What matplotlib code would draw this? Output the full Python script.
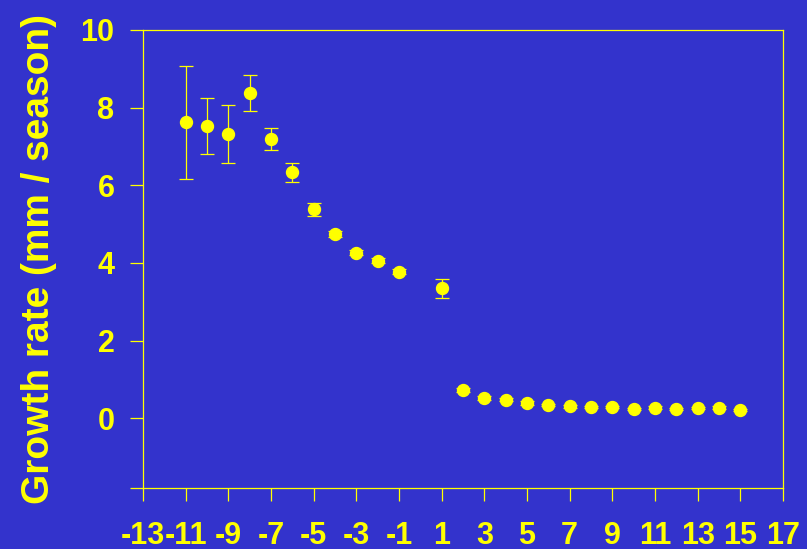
import numpy as np
import matplotlib.pyplot as plt

# growth rate per season, with standard errors
season = [-11, -10, -9, -8, -7, -6, -5, -4, -3, -2, -1, 1,
          2, 3, 4, 5, 6, 7, 8, 9, 10, 11, 12, 13, 14, 15]
growth = [7.62, 7.52, 7.32, 8.37, 7.19, 6.33, 5.38, 4.74, 4.26, 4.06, 3.77, 3.34,
          0.73, 0.52, 0.48, 0.39, 0.34, 0.30, 0.28, 0.28, 0.24, 0.27, 0.23, 0.26, 0.27, 0.21]
err = [1.45, 0.72, 0.74, 0.47, 0.29, 0.24, 0.17, 0.08, 0.07, 0.07, 0.06, 0.24,
       0.05, 0.04, 0.04, 0.04, 0.03, 0.03, 0.03, 0.03, 0.03, 0.03, 0.03, 0.03, 0.03, 0.03]

xticks = list(range(-13, 18, 2))
yticks = [0, 2, 4, 6, 8, 10]

bg = '#3333cc'
fg = '#ffff00'
plt.rcParams['font.family'] = ['Liberation Sans', 'DejaVu Sans']

fig = plt.figure(figsize=(8.07, 5.49), dpi=100, facecolor=bg)
ax = fig.add_axes([0.1772, 0.1111, 0.7931, 0.8343], facecolor=bg)

ax.errorbar(season, growth, yerr=err, fmt='o', color=fg, ms=8.6,
            ecolor=fg, elinewidth=0.9, capsize=4.7, capthick=0.9)

ymin = -1.8
ax.set_xlim(-13, 17)
ax.set_ylim(ymin, 10)
ax.set_xticks(xticks)
ax.set_xticklabels([str(v) for v in xticks])
ax.set_yticks([ymin] + yticks)
ax.set_yticklabels([''] + [str(v) for v in yticks])

for s in ax.spines.values():
    s.set_color(fg)
    s.set_linewidth(0.9)
ax.tick_params(axis='both', colors=fg, direction='out', length=9.5, width=0.9,
               labelsize=22)
ax.tick_params(axis='x', pad=14)
ax.tick_params(axis='y', pad=11)
for lab in ax.get_xticklabels() + ax.get_yticklabels():
    lab.set_fontweight('bold')

ax.set_ylabel('Growth rate (mm / season)', color=fg, fontsize=28,
              fontweight='bold', labelpad=17)

fig.savefig('out.png', dpi=100, facecolor=bg)
